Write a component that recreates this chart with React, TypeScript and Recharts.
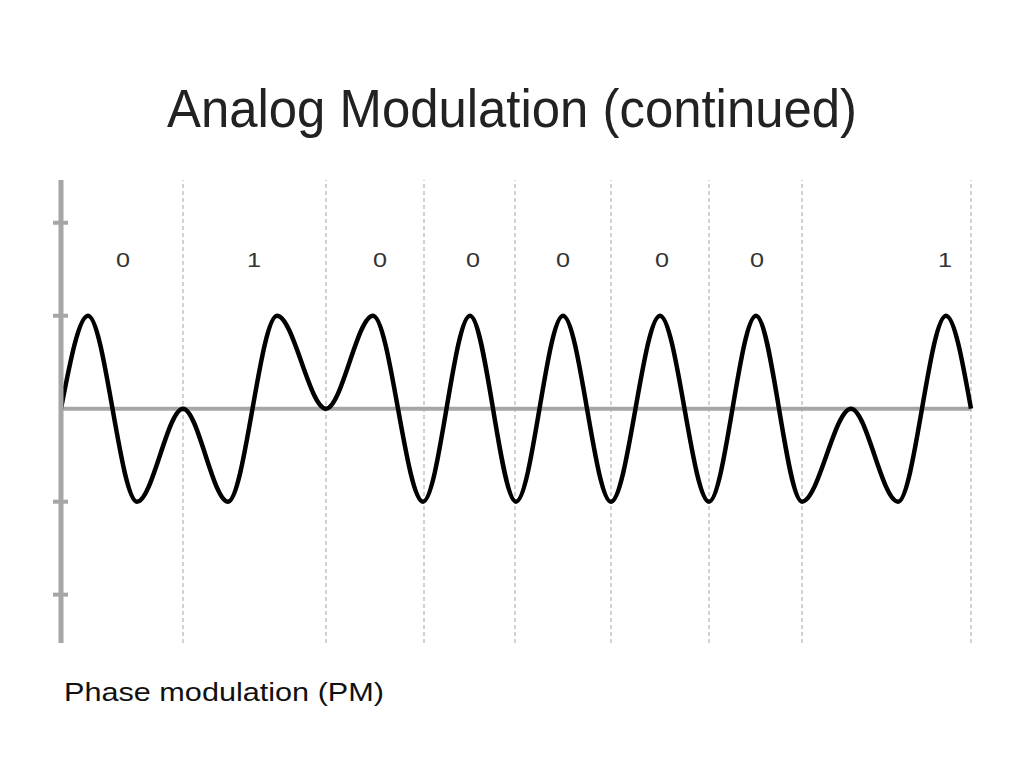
import {
  ComposedChart,
  Line,
  XAxis,
  YAxis,
  ReferenceLine,
  ReferenceDot,
} from 'recharts';

// wave: time (px from the axis) and amplitude at each peak / trough
const waveT = [0, 27, 76, 122, 167, 216, 265, 312, 362, 409, 455, 502, 550, 599, 648, 695, 741, 790, 837, 885, 910];
const waveV = [0, 1, -1, 0, -1, 1, 0, 1, -1, 1, -1, 1, -1, 1, -1, 1, -1, 0, -1, 1, 0];

// bit boundaries (dashed lines)
const bitEdges = [122, 265, 363, 454, 550, 648, 741, 910];

// bit labels
const bits = ['0', '1', '0', '0', '0', '0', '0', '1'];
const bitLabelT = [62, 193, 319, 412, 502, 601, 696, 884];
const bitLabelY = 1.6;

const yTicks = [-2, -1, 1, 2];

const GRAY = '#a6a6a6';
const FONT = '"Liberation Sans", Arial, sans-serif';

const AxisTick = (props: any) => {
  const { x, y } = props;
  return <line x1={x - 8} x2={x + 7} y1={y} y2={y} stroke={GRAY} strokeWidth={4} />;
};

// digits in the slide are drawn a bit wide, so stretch them slightly
const BitText = (text: string) => (props: any) => (
  <text
    x={props.cx - 7}
    y={props.cy}
    dy="0.36em"
    fill="#333"
    fontSize={20}
    fontFamily={FONT}
    textLength={14}
    lengthAdjust="spacingAndGlyphs"
  >
    {text}
  </text>
);

export default function App() {
  const data = waveT.map((t, i) => ({ t, v: waveV[i] }));

  return (
    <div style={{ position: 'absolute', left: 0, top: 0, width: 1024, height: 768, background: '#fff' }}>
      <ComposedChart
        width={1024}
        height={768}
        data={data}
        margin={{ top: 180, right: 53, bottom: 125, left: 41 }}
      >
        <XAxis dataKey="t" type="number" domain={[0, 910]} hide />
        <YAxis
          type="number"
          domain={[-2.52, 2.46]}
          ticks={yTicks}
          width={20}
          tickSize={0}
          tickMargin={0}
          tickLine={false}
          axisLine={{ stroke: GRAY, strokeWidth: 5 }}
          tick={(p: any) => <AxisTick {...p} />}
          allowDataOverflow
        />
        {bitEdges.map((x) => (
          <ReferenceLine key={`edge-${x}`} x={x} stroke="#c4c4c4" strokeWidth={1.5} strokeDasharray="4 3" />
        ))}
        <ReferenceLine y={0} stroke={GRAY} strokeWidth={4} />
        {bits.map((b, i) => (
          <ReferenceDot
            key={`bit-${i}`}
            x={bitLabelT[i]}
            y={bitLabelY}
            r={1}
            shape={BitText(b)}
          />
        ))}
        <Line
          type="monotone"
          dataKey="v"
          stroke="#000"
          strokeWidth={4.5}
          dot={false}
          isAnimationActive={false}
        />
      </ComposedChart>
      <svg
        width={1024}
        height={768}
        style={{ position: 'absolute', left: 0, top: 0, pointerEvents: 'none' }}
      >
        <text
          x={167}
          y={127}
          fontSize={53}
          fill="#222"
          fontFamily={FONT}
          textLength={690}
          lengthAdjust="spacingAndGlyphs"
        >
          Analog Modulation (continued)
        </text>
        <text
          x={64}
          y={701}
          fontSize={25}
          fill="#111"
          fontFamily={FONT}
          textLength={320}
          lengthAdjust="spacingAndGlyphs"
        >
          Phase modulation (PM)
        </text>
      </svg>
    </div>
  );
}
